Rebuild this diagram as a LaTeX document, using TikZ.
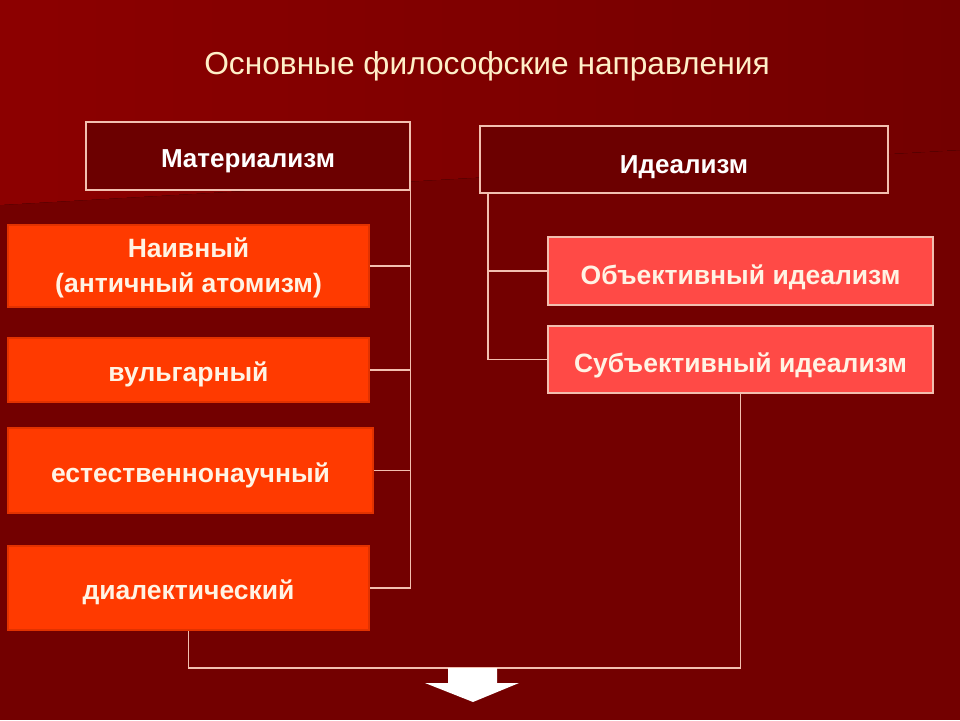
\documentclass[tikz,border=0pt]{standalone}
\usepackage{fontspec}
\setmainfont{Liberation Sans}
\usetikzlibrary{positioning}
\definecolor{bgred}{HTML}{730000}
\definecolor{bglight}{HTML}{8C0000}
\definecolor{headred}{HTML}{6C0000}
\definecolor{linepink}{HTML}{F2BFB0}
\definecolor{orangered}{HTML}{FF3A00}
\definecolor{orangeedge}{HTML}{E23200}
\definecolor{pinkred}{HTML}{FF4A46}
\definecolor{textcream}{HTML}{FFF3E4}
\definecolor{titlecream}{HTML}{FFEFC8}
\begin{document}
\begin{tikzpicture}[x=1pt,y=-1pt,
	headbox/.style={draw=linepink, fill=headred, line width=1.2pt, inner sep=0pt, text=white, text height=23pt, text depth=0pt, font=\bfseries\fontsize{26}{30}\selectfont},
	matbox/.style={draw=orangeedge, fill=orangered, line width=1.5pt, inner sep=0pt, text=textcream, align=center, text height=23pt, text depth=0pt, font=\bfseries\fontsize{26.5}{35}\selectfont},
	idbox/.style={draw=linepink, fill=pinkred, line width=1.2pt, inner sep=0pt, text=textcream, text height=26pt, text depth=0pt, font=\bfseries\fontsize{26.5}{30}\selectfont},
	link/.style={draw=linepink, line width=1.3pt}]
	\useasboundingbox (0,0) rectangle (960,720);
	% фон
	\fill[bgred] (0,0) rectangle (960,720);
	\fill[left color=bglight, right color=bgred] (0,0) -- (0,205) -- (960,150) -- (960,0) -- cycle;
	\node[text=titlecream, font=\fontsize{31.7}{36}\selectfont] (title) at (487,66) {Основные философские направления};
	% заголовки
	\node[headbox, minimum width=324pt, minimum height=68pt] (mat) at (248,156) {Материализм};
	\node[headbox, minimum width=408pt, minimum height=67pt, text height=27pt] (ideal) at (684,159.5) {Идеализм};
	% материализм
	\node[matbox, minimum width=361pt, minimum height=82pt, text height=52pt] (naiv) at (188.5,266) {Наивный\\(античный атомизм)};
	\node[matbox, minimum width=361pt, minimum height=64pt] (vulg) at (188.5,370) {вульгарный};
	\node[matbox, minimum width=365pt, minimum height=85pt] (estest) at (190.5,470.5) {естественнонаучный};
	\node[matbox, minimum width=361pt, minimum height=84pt] (dial) at (188.5,588) {диалектический};
	% идеализм
	\node[idbox, minimum width=385pt, minimum height=68pt] (obj) at (740.5,271) {Объективный идеализм};
	\node[idbox, minimum width=385pt, minimum height=67pt] (subj) at (740.5,359.5) {Субъективный идеализм};
	% линии
	\draw[link] (mat.south east) |- (dial.east);
	\draw[link] (naiv.east) -- (naiv.east -| mat.east);
	\draw[link] (vulg.east) -- (vulg.east -| mat.east);
	\draw[link] (estest.east) -- (estest.east -| mat.east);
	\coordinate (itrunk) at (488,193);
	\draw[link] (itrunk) |- (subj.west);
	\draw[link] (itrunk |- obj.west) -- (obj.west);
	\coordinate (join) at (188.5,668);
	\draw[link] (dial.south) -- (join) -| (subj.south);
	% стрелка
	\fill[white] (448,668) -- (497,668) -- (497,683) -- (519,683) -- (473,702) -- (425,683) -- (448,683) -- cycle;
\end{tikzpicture}
\end{document}
